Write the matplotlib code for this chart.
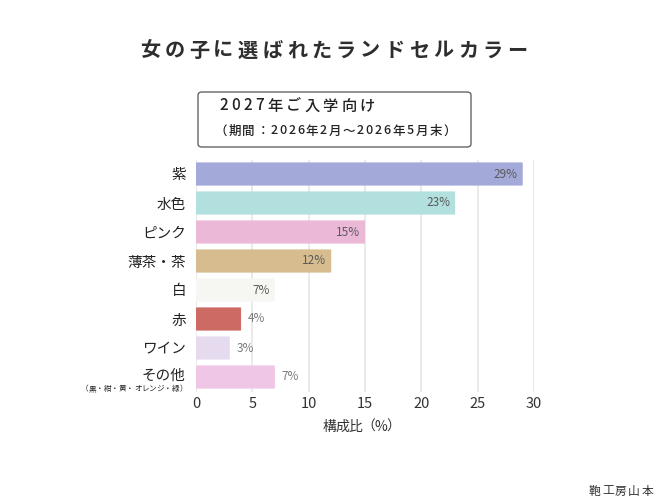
import matplotlib.pyplot as plt
from matplotlib.patches import FancyBboxPatch
from matplotlib.font_manager import findfont, FontProperties
from matplotlib.ft2font import FT2Font

plt.rcParams['font.family'] = ['Noto Sans CJK JP', 'DejaVu Sans']

# data
colors_names = ['紫', '水色', 'ピンク', '薄茶・茶', '白', '赤', 'ワイン', 'その他']
shares = [29, 23, 15, 12, 7, 4, 3, 7]
bar_colors = ['#a3aad9', '#b2e0df', '#ebb8d8', '#d6bc8f', '#f6f7f2', '#cc6a63', '#e6dbee', '#efc6e6']
label_inside = [True, True, True, True, True, False, False, False]
xticks = [0, 5, 10, 15, 20, 25, 30]

title = '女の子に選ばれたランドセルカラー'
box_line1 = '2027年ご入学向け'
box_line2 = '（期間：2026年2月～2026年5月末）'
other_note = '（黒・紺・黄・オレンジ・緑）'
x_label = '構成比（%）'
credit = '鞄工房山本'

W, H = 670, 503
fig = plt.figure(figsize=(W / 100, H / 100), dpi=100)


def fx(px):
    return px / W


def fy(py):
    return 1 - py / H


def advance(ch, size, weight):
    f = FT2Font(findfont(FontProperties(family='Noto Sans CJK JP', weight=weight)))
    f.set_size(size, 100)
    g = f.load_char(ord(ch))
    return g.linearHoriAdvance / 65536


def fit_text(s, x0, x1, yc, size, weight='normal', **kw):
    # draw text char by char so that it spans x0..x1 (pixels), like letter-spacing
    adv = [advance(ch, size, weight) for ch in s]
    gap = (x1 - x0 - sum(adv)) / max(len(s) - 1, 1)
    x = x0
    for ch, a in zip(s, adv):
        fig.text(fx(x), fy(yc), ch, fontsize=size, fontweight=weight,
                 ha='left', va='center', **kw)
        x += a + gap


ax = fig.add_axes([fx(196), fy(391.5), fx(534) - fx(196), fy(159.5) - fy(391.5)])

ax.set_xlim(0, 30)
ax.set_ylim(len(shares) - 0.5, -0.5)

for i, (v, c) in enumerate(zip(shares, bar_colors)):
    h = 0.8
    box = FancyBboxPatch((0, i - h / 2), v, h,
                         boxstyle='round,pad=0,rounding_size=0.12',
                         mutation_aspect=1 / 9.0,
                         facecolor=c, edgecolor='none', zorder=3)
    ax.add_patch(box)
    if label_inside[i]:
        ax.text(v - 0.45, i, f'{v}%', ha='right', va='center', fontsize=8.5,
                color='#5a5a5a', zorder=4)
    else:
        ax.text(v + 0.6, i, f'{v}%', ha='left', va='center', fontsize=8.5,
                color='#7a7a7a', zorder=4)

ax.set_xticks(xticks)
ax.set_xticklabels([str(t) for t in xticks], fontsize=10.5, color='#333333')
ax.set_yticks(range(len(shares)))
ax.set_yticklabels([n if n != 'その他' else '' for n in colors_names],
                   fontsize=10.5, color='#222222')
ax.tick_params(axis='both', length=0)
ax.tick_params(axis='y', pad=7)
ax.tick_params(axis='x', pad=4)
ax.grid(axis='x', color='#e6e6e6', linewidth=1.2, zorder=0)
for s in ax.spines.values():
    s.set_visible(False)
ax.set_axisbelow(True)

# その他 label with note
fig.text(fx(185), fy(376), 'その他', ha='right', va='center', fontsize=10.5, color='#222222')
fit_text(other_note, 81, 187, 389, 5.5, color='#222222')

# x label
fit_text(x_label, 323, 400, 427, 10, color='#333333')

# title with letter spacing
fit_text(title, 140, 527, 50, 14.5, weight='bold', color='#2e2e2e')

# period box
bx = FancyBboxPatch((fx(198), fy(147)), fx(471) - fx(198), fy(92) - fy(147),
                    boxstyle='round,pad=0,rounding_size=0.006',
                    transform=fig.transFigure, facecolor='white',
                    edgecolor='#555555', linewidth=0.9)
fig.patches.append(bx)
fit_text(box_line1, 219, 375, 106, 11, weight='medium', color='#222222')
fit_text(box_line2, 214, 456, 131, 9, weight='medium', color='#222222')

fit_text(credit, 589, 653, 491, 8.5, color='#333333')

fig.savefig('out.png', dpi=100)
